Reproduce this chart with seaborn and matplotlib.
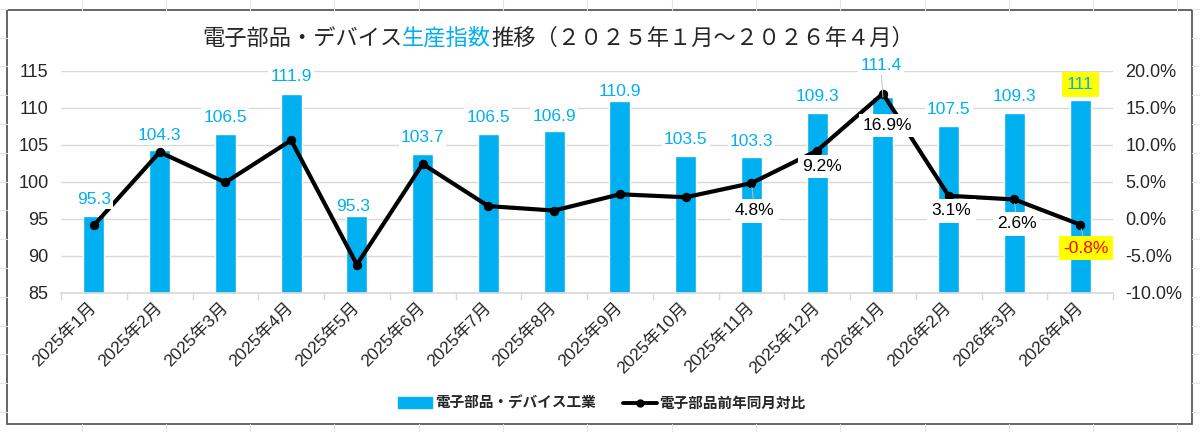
import numpy as np
import matplotlib
matplotlib.use("Agg")
from matplotlib import pyplot as plt
from matplotlib.patches import Patch, Rectangle
from matplotlib.lines import Line2D
import seaborn as sns

months = ['2025年1月', '2025年2月', '2025年3月', '2025年4月', '2025年5月', '2025年6月',
          '2025年7月', '2025年8月', '2025年9月', '2025年10月', '2025年11月', '2025年12月',
          '2026年1月', '2026年2月', '2026年3月', '2026年4月']
index_vals = [95.3, 104.3, 106.5, 111.9, 95.3, 103.7, 106.5, 106.9,
              110.9, 103.5, 103.3, 109.3, 111.4, 107.5, 109.3, 111]
yoy_pct = [-0.9, 9.0, 4.9, 10.6, -6.2, 7.4, 1.7, 1.1,
           3.3, 2.9, 4.8, 9.2, 16.9, 3.1, 2.6, -0.8]
yoy_labeled = [10, 11, 12, 13, 14, 15]

bar_name = '電子部品・デバイス工業'
line_name = '電子部品前年同月対比'

CYAN = '#00B0F0'
W, H = 1200, 432

sns.set_theme(style='white')
plt.rcParams['font.family'] = ['Liberation Sans', 'Noto Sans CJK JP']

fig = plt.figure(figsize=(W / 100, H / 100), dpi=100)
ax = fig.add_axes([61 / W, 139.3 / H, 1052 / W, 222 / H])

sns.barplot(x=months, y=index_vals, color=CYAN, saturation=1, width=0.32, ax=ax, zorder=2)
ax.set_ylim(85, 115)
ax.set_yticks(np.arange(85, 116, 5))
ax.set_xlim(-0.5, 15.5)
ax.set_xlabel('')
ax.set_ylabel('')
ax.yaxis.grid(True, color='#D9D9D9', lw=1)
ax.set_axisbelow(True)
for s in ['left', 'right', 'top']:
    ax.spines[s].set_visible(False)
ax.spines['bottom'].set_color('#D9D9D9')
ax.set_xticks(np.arange(-0.5, 16, 1), minor=True)
ax.tick_params(axis='x', which='minor', length=5, color='#D9D9D9', direction='out', bottom=True)
ax.tick_params(axis='x', which='major', length=0, pad=9)
ax.tick_params(axis='y', length=0, pad=9, labelsize=13, labelcolor='#262626')
for lab in ax.get_xticklabels():
    lab.set_rotation(45)
    lab.set_ha('right')
    lab.set_va('center')
    lab.set_rotation_mode('anchor')
    lab.set_fontsize(12.5)
    lab.set_color('#262626')

ax2 = ax.twinx()
sns.lineplot(x=np.arange(len(yoy_pct)), y=yoy_pct, ax=ax2, color='black', lw=3,
             marker='o', markersize=6, markeredgecolor='black', zorder=3)
ax2.set_ylim(-10, 20)
ax2.set_yticks(np.arange(-10, 21, 5))
ax2.set_yticklabels([f'{v:.1f}%' for v in np.arange(-10, 21, 5)])
ax2.set_xlim(-0.5, 15.5)
ax2.set_xlabel('')
ax2.set_ylabel('')
for s in ax2.spines.values():
    s.set_visible(False)
ax2.tick_params(axis='y', length=0, pad=9, labelsize=13, labelcolor='#262626')
ax2.grid(False)

# bar value labels (px offsets from bar top)
bar_dy = [17, 14, 16, 17, 10, 17, 16, 14, 10, 16, 16, 16, 32, 17, 16, 16]
bar_dx = [0, 0, 0, 0, -4, 0, 0, 0, 0, 0, 0, 0, -2, 0, 0, 0]
for i, v in enumerate(index_vals):
    last = i == len(index_vals) - 1
    kw = {}
    if i == 12:
        kw['arrowprops'] = dict(arrowstyle='-', color='#BFBFBF', lw=0.7, shrinkA=0, shrinkB=0)
    ax2.annotate(f'{v:g}', xy=(i, v), xycoords=ax.transData,
                 xytext=(bar_dx[i], bar_dy[i]), textcoords='offset pixels',
                 ha='center', va='center', fontsize=12.5, color=CYAN, zorder=5,
                 bbox=dict(boxstyle='square,pad=0.3' if last else 'square,pad=0.12',
                           fc='#FFFF00' if last else 'white', ec='none'), **kw)

# yoy labels below points
pct_dy = [27.5, 16, 32, 15, 24.5, 23.5]
pct_dx = [3.5, 5, 5, 3, 2.5, 6]
for k, i in enumerate(yoy_labeled):
    v = yoy_pct[i]
    last = i == len(yoy_pct) - 1
    kw = {}
    if i in (10, 14, 15):
        kw['arrowprops'] = dict(arrowstyle='-', color='#BFBFBF', lw=0.7, shrinkA=0, shrinkB=3)
    ax2.annotate(f'{v:.1f}%', xy=(i, v), xytext=(pct_dx[k], -pct_dy[k]),
                 textcoords='offset pixels', ha='center', va='center', fontsize=12.5,
                 color='#FF0000' if last else 'black', zorder=5,
                 bbox=dict(boxstyle='square,pad=0.25', fc='#FFFF00' if last else 'white', ec='none'),
                 **kw)

# title in three colour pieces
title_font = dict(fontsize=16, family=['Noto Sans CJK JP', 'DejaVu Sans'])
t1 = fig.text(0, 1 - 38 / H, '電子部品・デバイス', ha='left', va='center', color='#262626', **title_font)
t2 = fig.text(0, 1 - 38 / H, '生産指数', ha='left', va='center', color=CYAN, **title_font)
t3 = fig.text(0, 1 - 38 / H, '推移（２０２５年１月～２０２６年４月）', ha='left', va='center',
              color='#262626', **title_font)
fig.canvas.draw()
r = fig.canvas.get_renderer()
widths = [t.get_window_extent(r).width for t in (t1, t2, t3)]
x0 = 558 - sum(widths) / 2
for t, w in zip((t1, t2, t3), widths):
    t.set_x(x0 / W)
    x0 += w

handles = [Patch(color=CYAN),
           Line2D([], [], color='black', lw=2.8, marker='o', markersize=5)]
fig.legend(handles, [bar_name, line_name], loc='center', bbox_to_anchor=(602 / W, 1 - 402.7 / H),
           ncol=2, frameon=False, handlelength=2.3, handletextpad=0.2, columnspacing=1.9,
           prop=dict(size=10.5, weight='bold', family=['Noto Sans CJK JP']))

# spreadsheet cell lines around the chart, and the chart border
for cx in 81.5 + 84.3 * np.arange(14):
    fig.add_artist(Line2D([cx / W] * 2, [1, 1 - 10 / H], transform=fig.transFigure, color='#E3E3E3', lw=0.8))
    fig.add_artist(Line2D([cx / W] * 2, [0, 1 - 424 / H], transform=fig.transFigure, color='#E3E3E3', lw=0.8))
for ry in 412 - 28.8 * np.arange(15):
    fig.add_artist(Line2D([0, 7 / W], [1 - ry / H] * 2, transform=fig.transFigure, color='#E3E3E3', lw=0.8))
    fig.add_artist(Line2D([1192 / W, 1], [1 - ry / H] * 2, transform=fig.transFigure, color='#E3E3E3', lw=0.8))
fig.add_artist(Rectangle((7 / W, 1 - 424 / H), 1185 / W, 414 / H, transform=fig.transFigure,
                         fill=False, ec='#595959', lw=1.3))

fig.savefig('out.png', dpi=100, facecolor='white')
